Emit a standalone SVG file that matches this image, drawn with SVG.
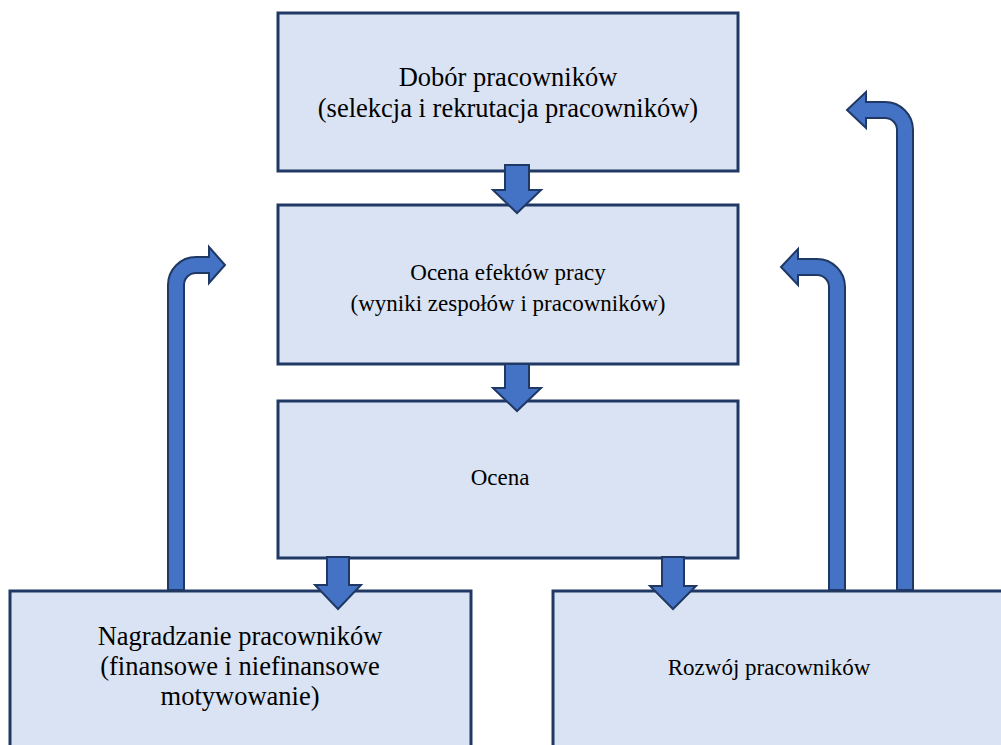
<svg xmlns="http://www.w3.org/2000/svg" width="1001" height="745" viewBox="0 0 1001 745">
  <style>
    .box { fill: #dae3f3; stroke: #1f3864; stroke-width: 3; }
    .lbl { font-family: "Liberation Serif", "Times New Roman", serif; font-size: 26.5px; fill: #000; text-anchor: middle; }
    .sm { font-size: 23px; }
    .arr { fill: #4472c4; stroke: #1f3864; stroke-width: 2; stroke-linejoin: miter; }
  </style>
  <rect width="1001" height="745" fill="#fff"/>

  <g id="node-dobor">
    <rect class="box" x="278" y="13" width="460" height="158"/>
    <text class="lbl" x="508" y="86">Dobór pracowników</text>
    <text class="lbl" x="508" y="117">(selekcja i rekrutacja pracowników)</text>
  </g>

  <g id="node-ocena-efektow">
    <rect class="box" x="278" y="205" width="460" height="159"/>
    <text class="lbl sm" x="508" y="280">Ocena efektów pracy</text>
    <text class="lbl sm" x="508" y="311">(wyniki zespołów i pracowników)</text>
  </g>

  <g id="node-ocena">
    <rect class="box" x="278" y="401" width="460" height="157"/>
    <text class="lbl sm" x="500" y="485">Ocena</text>
  </g>

  <g id="node-nagradzanie">
    <rect class="box" x="10" y="591" width="461" height="170"/>
    <text class="lbl" x="240" y="645">Nagradzanie pracowników</text>
    <text class="lbl" x="240" y="675">(finansowe i niefinansowe</text>
    <text class="lbl" x="240" y="705">motywowanie)</text>
  </g>

  <g id="node-rozwoj">
    <rect class="box" x="553" y="591" width="470" height="170"/>
    <text class="lbl sm" x="769" y="675">Rozwój pracowników</text>
  </g>

  <g id="connectors">
    <!-- straight block arrows pointing down -->
    <path class="arr" d="M505,165 H529 V190 H541 L517,213 L493,190 H505 Z"/>
    <path class="arr" d="M505,364 H529 V388 H541 L517,411 L493,388 H505 Z"/>
    <path class="arr" d="M327,557 H349 V585 H361 L338,609 L315,585 H327 Z"/>
    <path class="arr" d="M662,557 H684 V586 H696 L673,609 L650,586 H662 Z"/>
    <!-- bent feedback arrows -->
    <path class="arr" d="M168,590 V285 A28,28 0 0 1 196,257 H209 V247 L225,265 L209,283 V273 H196 A12,12 0 0 0 184,285 V590 Z"/>
    <path class="arr" d="M845,590 V287 A28,28 0 0 0 817,259 H798 V249 L781,267 L798,285 V275 H817 A12,12 0 0 1 829,287 V590 Z"/>
    <path class="arr" d="M913,590 V130 A28,28 0 0 0 885,102 H866 V92 L847,110 L866,128 V118 H885 A12,12 0 0 1 897,130 V590 Z"/>
  </g>
</svg>
